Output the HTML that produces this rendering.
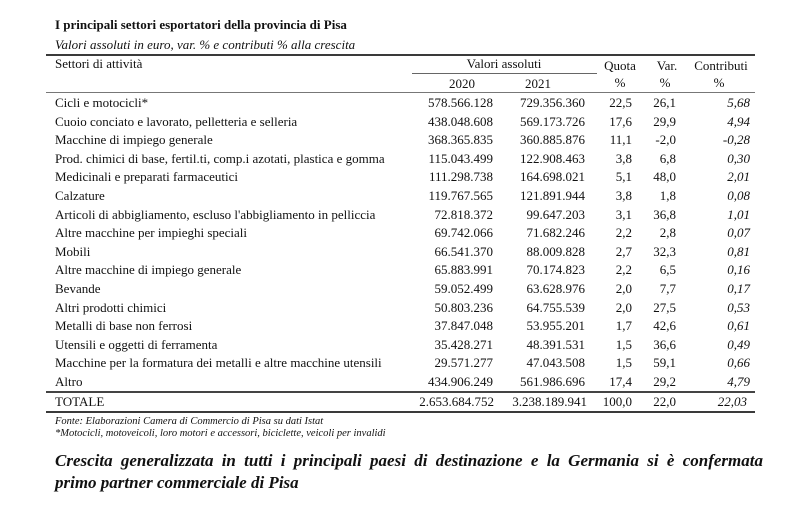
<!DOCTYPE html>
<html>
<head>
<meta charset="utf-8">
<style>
html,body{margin:0;padding:0;background:#fff;}
body{width:800px;height:526px;position:relative;overflow:hidden;font-family:"Liberation Serif",serif;color:#111;}
.a{position:absolute;white-space:nowrap;}
.t{font-size:13px;line-height:18px;height:18px;}
.r{text-align:right;}
.c{text-align:center;}
.i{font-style:italic;}
.hl{position:absolute;background:#444;}
.h{position:absolute;font-size:17px;line-height:22px;font-weight:bold;font-style:italic;}
</style>
</head>
<body>
<div class="a t" style="left:55px;top:16px;font-weight:bold;">I principali settori esportatori della provincia di Pisa</div>
<div class="a t i" style="left:55px;top:36px;">Valori assoluti in euro, var. % e contributi % alla crescita</div>

<div class="hl" style="left:46px;top:54px;width:709px;height:2px;background:#3a3a3a;"></div>

<div class="a t" style="left:55px;top:55px;">Settori di attività</div>
<div class="a t c" style="left:424px;top:55px;width:160px;">Valori assoluti</div>
<div class="hl" style="left:412px;top:73px;width:185px;height:1px;background:#666;"></div>
<div class="a t c" style="left:430px;top:75px;width:64px;">2020</div>
<div class="a t c" style="left:506px;top:75px;width:64px;">2021</div>
<div class="a t c" style="left:595px;top:57px;width:50px;">Quota</div>
<div class="a t c" style="left:595px;top:74px;width:50px;">%</div>
<div class="a t c" style="left:645px;top:57px;width:44px;">Var.</div>
<div class="a t c" style="left:643px;top:74px;width:44px;">%</div>
<div class="a t c" style="left:686px;top:57px;width:70px;">Contributi</div>
<div class="a t c" style="left:684px;top:74px;width:70px;">%</div>

<div class="hl" style="left:46px;top:92px;width:709px;height:1px;background:#777;"></div>

<div class="a t" style="left:55px;top:94px;">Cicli e motocicli*</div>
<div class="a t r" style="left:393px;top:94px;width:100px;">578.566.128</div>
<div class="a t r" style="left:485px;top:94px;width:100px;">729.356.360</div>
<div class="a t r" style="left:582px;top:94px;width:50px;">22,5</div>
<div class="a t r" style="left:626px;top:94px;width:50px;">26,1</div>
<div class="a t r i" style="left:690px;top:94px;width:60px;">5,68</div>

<div class="a t" style="left:55px;top:112.6px;">Cuoio conciato e lavorato, pelletteria e selleria</div>
<div class="a t r" style="left:393px;top:112.6px;width:100px;">438.048.608</div>
<div class="a t r" style="left:485px;top:112.6px;width:100px;">569.173.726</div>
<div class="a t r" style="left:582px;top:112.6px;width:50px;">17,6</div>
<div class="a t r" style="left:626px;top:112.6px;width:50px;">29,9</div>
<div class="a t r i" style="left:690px;top:112.6px;width:60px;">4,94</div>

<div class="a t" style="left:55px;top:131.2px;">Macchine di impiego generale</div>
<div class="a t r" style="left:393px;top:131.2px;width:100px;">368.365.835</div>
<div class="a t r" style="left:485px;top:131.2px;width:100px;">360.885.876</div>
<div class="a t r" style="left:582px;top:131.2px;width:50px;">11,1</div>
<div class="a t r" style="left:626px;top:131.2px;width:50px;">-2,0</div>
<div class="a t r i" style="left:690px;top:131.2px;width:60px;">-0,28</div>

<div class="a t" style="left:55px;top:149.8px;">Prod. chimici di base, fertil.ti, comp.i azotati, plastica e gomma</div>
<div class="a t r" style="left:393px;top:149.8px;width:100px;">115.043.499</div>
<div class="a t r" style="left:485px;top:149.8px;width:100px;">122.908.463</div>
<div class="a t r" style="left:582px;top:149.8px;width:50px;">3,8</div>
<div class="a t r" style="left:626px;top:149.8px;width:50px;">6,8</div>
<div class="a t r i" style="left:690px;top:149.8px;width:60px;">0,30</div>

<div class="a t" style="left:55px;top:168.4px;">Medicinali e preparati farmaceutici</div>
<div class="a t r" style="left:393px;top:168.4px;width:100px;">111.298.738</div>
<div class="a t r" style="left:485px;top:168.4px;width:100px;">164.698.021</div>
<div class="a t r" style="left:582px;top:168.4px;width:50px;">5,1</div>
<div class="a t r" style="left:626px;top:168.4px;width:50px;">48,0</div>
<div class="a t r i" style="left:690px;top:168.4px;width:60px;">2,01</div>

<div class="a t" style="left:55px;top:187px;">Calzature</div>
<div class="a t r" style="left:393px;top:187px;width:100px;">119.767.565</div>
<div class="a t r" style="left:485px;top:187px;width:100px;">121.891.944</div>
<div class="a t r" style="left:582px;top:187px;width:50px;">3,8</div>
<div class="a t r" style="left:626px;top:187px;width:50px;">1,8</div>
<div class="a t r i" style="left:690px;top:187px;width:60px;">0,08</div>

<div class="a t" style="left:55px;top:205.6px;">Articoli di abbigliamento, escluso l'abbigliamento in pelliccia</div>
<div class="a t r" style="left:393px;top:205.6px;width:100px;">72.818.372</div>
<div class="a t r" style="left:485px;top:205.6px;width:100px;">99.647.203</div>
<div class="a t r" style="left:582px;top:205.6px;width:50px;">3,1</div>
<div class="a t r" style="left:626px;top:205.6px;width:50px;">36,8</div>
<div class="a t r i" style="left:690px;top:205.6px;width:60px;">1,01</div>

<div class="a t" style="left:55px;top:224.2px;">Altre macchine per impieghi speciali</div>
<div class="a t r" style="left:393px;top:224.2px;width:100px;">69.742.066</div>
<div class="a t r" style="left:485px;top:224.2px;width:100px;">71.682.246</div>
<div class="a t r" style="left:582px;top:224.2px;width:50px;">2,2</div>
<div class="a t r" style="left:626px;top:224.2px;width:50px;">2,8</div>
<div class="a t r i" style="left:690px;top:224.2px;width:60px;">0,07</div>

<div class="a t" style="left:55px;top:242.8px;">Mobili</div>
<div class="a t r" style="left:393px;top:242.8px;width:100px;">66.541.370</div>
<div class="a t r" style="left:485px;top:242.8px;width:100px;">88.009.828</div>
<div class="a t r" style="left:582px;top:242.8px;width:50px;">2,7</div>
<div class="a t r" style="left:626px;top:242.8px;width:50px;">32,3</div>
<div class="a t r i" style="left:690px;top:242.8px;width:60px;">0,81</div>

<div class="a t" style="left:55px;top:261.4px;">Altre macchine di impiego generale</div>
<div class="a t r" style="left:393px;top:261.4px;width:100px;">65.883.991</div>
<div class="a t r" style="left:485px;top:261.4px;width:100px;">70.174.823</div>
<div class="a t r" style="left:582px;top:261.4px;width:50px;">2,2</div>
<div class="a t r" style="left:626px;top:261.4px;width:50px;">6,5</div>
<div class="a t r i" style="left:690px;top:261.4px;width:60px;">0,16</div>

<div class="a t" style="left:55px;top:280px;">Bevande</div>
<div class="a t r" style="left:393px;top:280px;width:100px;">59.052.499</div>
<div class="a t r" style="left:485px;top:280px;width:100px;">63.628.976</div>
<div class="a t r" style="left:582px;top:280px;width:50px;">2,0</div>
<div class="a t r" style="left:626px;top:280px;width:50px;">7,7</div>
<div class="a t r i" style="left:690px;top:280px;width:60px;">0,17</div>

<div class="a t" style="left:55px;top:298.6px;">Altri prodotti chimici</div>
<div class="a t r" style="left:393px;top:298.6px;width:100px;">50.803.236</div>
<div class="a t r" style="left:485px;top:298.6px;width:100px;">64.755.539</div>
<div class="a t r" style="left:582px;top:298.6px;width:50px;">2,0</div>
<div class="a t r" style="left:626px;top:298.6px;width:50px;">27,5</div>
<div class="a t r i" style="left:690px;top:298.6px;width:60px;">0,53</div>

<div class="a t" style="left:55px;top:317.2px;">Metalli di base non ferrosi</div>
<div class="a t r" style="left:393px;top:317.2px;width:100px;">37.847.048</div>
<div class="a t r" style="left:485px;top:317.2px;width:100px;">53.955.201</div>
<div class="a t r" style="left:582px;top:317.2px;width:50px;">1,7</div>
<div class="a t r" style="left:626px;top:317.2px;width:50px;">42,6</div>
<div class="a t r i" style="left:690px;top:317.2px;width:60px;">0,61</div>

<div class="a t" style="left:55px;top:335.8px;">Utensili e oggetti di ferramenta</div>
<div class="a t r" style="left:393px;top:335.8px;width:100px;">35.428.271</div>
<div class="a t r" style="left:485px;top:335.8px;width:100px;">48.391.531</div>
<div class="a t r" style="left:582px;top:335.8px;width:50px;">1,5</div>
<div class="a t r" style="left:626px;top:335.8px;width:50px;">36,6</div>
<div class="a t r i" style="left:690px;top:335.8px;width:60px;">0,49</div>

<div class="a t" style="left:55px;top:354.4px;">Macchine per la formatura dei metalli e altre macchine utensili</div>
<div class="a t r" style="left:393px;top:354.4px;width:100px;">29.571.277</div>
<div class="a t r" style="left:485px;top:354.4px;width:100px;">47.043.508</div>
<div class="a t r" style="left:582px;top:354.4px;width:50px;">1,5</div>
<div class="a t r" style="left:626px;top:354.4px;width:50px;">59,1</div>
<div class="a t r i" style="left:690px;top:354.4px;width:60px;">0,66</div>

<div class="a t" style="left:55px;top:372.5px;">Altro</div>
<div class="a t r" style="left:393px;top:372.5px;width:100px;">434.906.249</div>
<div class="a t r" style="left:485px;top:372.5px;width:100px;">561.986.696</div>
<div class="a t r" style="left:582px;top:372.5px;width:50px;">17,4</div>
<div class="a t r" style="left:626px;top:372.5px;width:50px;">29,2</div>
<div class="a t r i" style="left:690px;top:372.5px;width:60px;">4,79</div>

<div class="hl" style="left:46px;top:391px;width:709px;height:1.5px;background:#444;"></div>

<div class="a t" style="left:55px;top:393px;">TOTALE</div>
<div class="a t r" style="left:394px;top:393px;width:100px;">2.653.684.752</div>
<div class="a t r" style="left:487px;top:393px;width:100px;">3.238.189.941</div>
<div class="a t r" style="left:582px;top:393px;width:50px;">100,0</div>
<div class="a t r" style="left:626px;top:393px;width:50px;">22,0</div>
<div class="a t r i" style="left:687px;top:393px;width:60px;">22,03</div>

<div class="hl" style="left:46px;top:411px;width:709px;height:2px;background:#3a3a3a;"></div>

<div class="a i" style="left:55px;top:415px;font-size:10.5px;line-height:13px;">Fonte: Elaborazioni Camera di Commercio di Pisa su dati Istat</div>
<div class="a i" style="left:55px;top:427px;font-size:10.5px;line-height:13px;">*Motocicli, motoveicoli, loro motori e accessori, biciclette, veicoli per invalidi</div>

<div class="h" style="left:55px;top:450px;width:708px;height:22px;overflow:hidden;text-align:justify;text-align-last:justify;white-space:normal;">Crescita generalizzata in tutti i principali paesi di destinazione e la Germania si è confermata</div>
<div class="h" style="left:55px;top:472px;white-space:nowrap;">primo partner commerciale di Pisa</div>
</body>
</html>
